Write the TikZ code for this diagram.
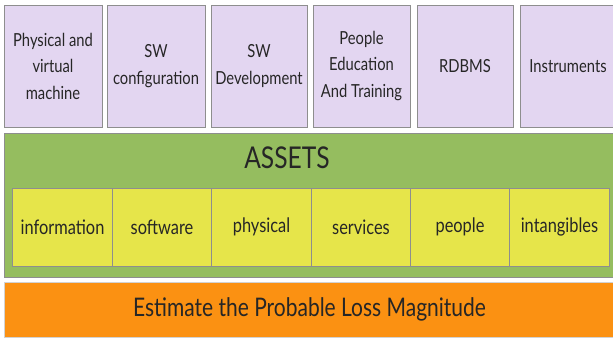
\documentclass[tikz,border=0pt]{standalone}
\usepackage{fontspec}
\setmainfont{Lato}[FakeStretch=0.82]
\definecolor{lavender}{HTML}{E3D6F1}
\definecolor{leaf}{HTML}{95BD5F}
\definecolor{lemon}{HTML}{E6E54A}
\definecolor{amber}{HTML}{FB9112}
\definecolor{edge}{HTML}{8E8E8E}
\begin{document}
\begin{tikzpicture}[x=1pt,y=-1pt,
  base/.style={draw=edge,line width=1pt,inner sep=0pt,align=center,text=black!85},
  topbox/.style={base,fill=lavender,minimum height=122pt,
    font=\fontsize{18}{26.5}\selectfont},
  cell/.style={base,fill=lemon,minimum width=99.3pt,minimum height=78pt,
    font=\fontsize{20}{24}\selectfont},
  band/.style={base,minimum width=611pt}]
\useasboundingbox (0,0) rectangle (613,338);
\clip (0,0) rectangle (613,338);
% top row of asset categories
\node[topbox,minimum width=98pt] (pv)   at (53,66)    {Physical and\\virtual\\machine};
\node[topbox,minimum width=98pt] (swc)  at (156,66)   {SW\\configuration};
\node[topbox,minimum width=96pt] (swd)  at (259,66)   {SW\\Development};
\node[topbox,minimum width=97pt] (pet)  at (361.5,66) {People\\Education\\And Training};
\node[topbox,minimum width=96pt] (db)   at (465,66)   {RDBMS};
\node[topbox,minimum width=96pt] (ins)  at (568,66)   {Instruments};
% assets band with its cells
\node[band,fill=leaf,minimum height=144pt] (assets) at (309.5,205) {};
\node[font=\fontsize{30}{34}\selectfont,text=black!85] (title) at (287,158) {ASSETS};
\node[cell] (c1) at (62.5,227)  {information};
\node[cell] (c2) at (162,227)   {software};
\node[cell] (c3) at (261.5,227) {physical};
\node[cell] (c4) at (361,227)   {services};
\node[cell] (c5) at (460,227)   {people};
\node[cell] (c6) at (559.5,227) {intangibles};
% loss estimate bar
\node[band,fill=amber,draw=edge!40,minimum height=55pt,
  font=\fontsize{25.6}{30}\selectfont] (loss) at (309.5,309.5) {Estimate the Probable Loss Magnitude};
\end{tikzpicture}
\end{document}
